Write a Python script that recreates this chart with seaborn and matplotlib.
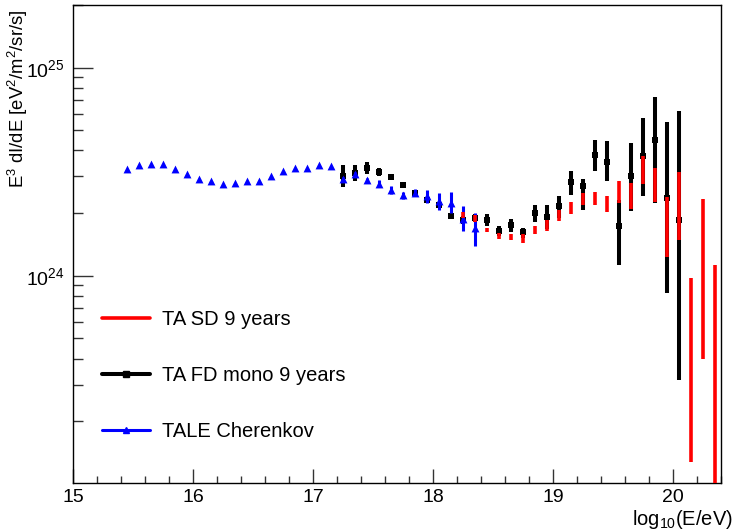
import matplotlib
matplotlib.use("Agg")
import matplotlib.pyplot as plt
import numpy as np
import seaborn as sns
from matplotlib.lines import Line2D
from matplotlib.ticker import FixedLocator, NullFormatter, FixedFormatter

# TALE Cherenkov (blue triangles), flux in units of 1e24
tale_x = [15.45, 15.55, 15.65, 15.75, 15.85, 15.95, 16.05, 16.15, 16.25, 16.35,
          16.45, 16.55, 16.65, 16.75, 16.85, 16.95, 17.05, 17.15, 17.25, 17.35,
          17.45, 17.55, 17.65, 17.75, 17.85, 17.95, 18.05, 18.15, 18.25, 18.35]
tale_y = [3.26, 3.41, 3.43, 3.43, 3.26, 3.08, 2.93, 2.84, 2.76, 2.79,
          2.84, 2.86, 3.03, 3.18, 3.28, 3.29, 3.39, 3.37, 2.93, 3.09,
          2.89, 2.76, 2.58, 2.45, 2.51, 2.41, 2.28, 2.24, 1.88, 1.70]
tale_lo = [3.26, 3.41, 3.43, 3.43, 3.26, 3.08, 2.93, 2.84, 2.76, 2.79,
           2.84, 2.86, 3.03, 3.18, 3.28, 3.29, 3.39, 3.37, 2.87, 3.03,
           2.83, 2.66, 2.47, 2.35, 2.42, 2.24, 2.07, 2.00, 1.64, 1.39]
tale_hi = [3.26, 3.41, 3.43, 3.43, 3.26, 3.08, 2.93, 2.84, 2.76, 2.79,
           2.84, 2.86, 3.03, 3.18, 3.28, 3.29, 3.39, 3.37, 2.99, 3.15,
           2.95, 2.87, 2.70, 2.54, 2.60, 2.59, 2.50, 2.54, 2.16, 2.00]

# TA FD mono 9 years (black squares)
fd_x = [17.25, 17.35, 17.45, 17.55, 17.65, 17.75, 17.85, 17.95, 18.05, 18.15,
        18.25, 18.35, 18.45, 18.55, 18.65, 18.75, 18.85, 18.95, 19.05, 19.15,
        19.25, 19.35, 19.45, 19.55, 19.65, 19.75, 19.85, 19.95, 20.05]
fd_y = [3.03, 3.11, 3.29, 3.15, 2.97, 2.72, 2.49, 2.32, 2.20, 1.93,
        1.86, 1.90, 1.86, 1.65, 1.76, 1.62, 2.00, 1.92, 2.16, 2.81,
        2.69, 3.79, 3.54, 1.73, 3.00, 3.77, 4.47, 2.36, 1.86]
fd_lo = [2.66, 2.84, 3.08, 3.00, 2.89, 2.64, 2.42, 2.26, 2.13, 1.87,
         1.78, 1.81, 1.74, 1.56, 1.63, 1.52, 1.82, 1.67, 1.90, 2.45,
         2.07, 3.17, 2.84, 1.13, 2.04, 2.41, 2.24, 0.828, 0.316]
fd_hi = [3.41, 3.41, 3.52, 3.29, 3.06, 2.80, 2.56, 2.39, 2.27, 1.99,
         1.94, 1.99, 1.99, 1.73, 1.88, 1.70, 2.19, 2.19, 2.41, 3.17,
         2.92, 4.47, 4.42, 2.32, 4.34, 5.72, 7.26, 5.51, 6.22]

# TA SD 9 years (red)
sd_x = [18.25, 18.35, 18.45, 18.55, 18.65, 18.75, 18.85, 18.95, 19.05, 19.15,
        19.25, 19.35, 19.45, 19.55, 19.65, 19.75, 19.85, 19.95, 20.05, 20.15,
        20.25, 20.35]
sd_y = [1.97, 1.88, 1.65, 1.55, 1.53, 1.50, 1.65, 1.76, 1.97, 2.12,
        2.34, 2.36, 2.22, 2.51, 2.42, 3.23, 2.72, 1.72, 2.16, 0.35,
        1.10, 0.40]
sd_lo = [1.90, 1.82, 1.62, 1.50, 1.48, 1.43, 1.58, 1.65, 1.84, 1.99,
         2.18, 2.19, 2.02, 2.24, 2.09, 2.77, 2.25, 1.23, 1.48, 0.128,
         0.399, 0.05]
sd_hi = [2.02, 1.95, 1.69, 1.61, 1.59, 1.58, 1.73, 1.86, 2.08, 2.25,
         2.50, 2.54, 2.43, 2.84, 2.79, 3.77, 3.29, 2.39, 3.14, 0.977,
         2.34, 1.13]

legend_labels = ["TA SD 9 years", "TA FD mono 9 years", "TALE Cherenkov"]
SCALE = 1e24


def main() -> None:
    sns.set_style("white")
    plt.rcParams["font.family"] = ["Liberation Sans", "DejaVu Sans"]
    plt.rcParams["mathtext.fontset"] = "custom"
    plt.rcParams["mathtext.rm"] = "Liberation Sans"
    plt.rcParams["mathtext.it"] = "Liberation Sans:italic"
    plt.rcParams["text.color"] = "black"
    plt.rcParams["xtick.color"] = "black"
    plt.rcParams["ytick.color"] = "black"

    fig = plt.figure(figsize=(7.34, 5.32), dpi=100)
    ax = fig.add_axes([73 / 734, 1 - 483 / 532, 648 / 734, 478 / 532])
    ax.set_yscale("log")

    # black FD mono
    ax.vlines(fd_x, np.array(fd_lo) * SCALE, np.array(fd_hi) * SCALE,
              color="black", lw=2.9, zorder=2)
    sns.scatterplot(x=fd_x, y=np.array(fd_y) * SCALE, marker="s", s=24,
                    color="black", edgecolor="black", linewidth=0, ax=ax, zorder=3)

    # blue TALE
    ax.vlines(tale_x, np.array(tale_lo) * SCALE, np.array(tale_hi) * SCALE,
              color="blue", lw=2.2, zorder=4)
    sns.scatterplot(x=tale_x, y=np.array(tale_y) * SCALE, marker="^", s=32,
                    color="blue", edgecolor="blue", linewidth=0, ax=ax, zorder=5)

    # red SD
    ax.vlines(sd_x, np.array(sd_lo) * SCALE, np.array(sd_hi) * SCALE,
              color="red", lw=2.6, zorder=6)

    ax.set_xlim(15, 20.4)
    ax.set_ylim(1.01e23, 2e25)

    ax.xaxis.set_major_locator(FixedLocator([15, 16, 17, 18, 19, 20]))
    ax.xaxis.set_minor_locator(FixedLocator(
        [v / 10 for v in range(150, 205, 2) if v % 10 != 0]))
    ax.set_xticklabels(["15", "16", "17", "18", "19", "20"])

    ax.yaxis.set_major_locator(FixedLocator([1e24, 1e25]))
    ax.yaxis.set_major_formatter(FixedFormatter([r"$10^{24}$", r"$10^{25}$"]))
    minors = [m * 10.0 ** e for e in (23, 24) for m in range(2, 10)] + [2e25]
    ax.yaxis.set_minor_locator(FixedLocator(minors))
    ax.yaxis.set_minor_formatter(NullFormatter())

    ax.tick_params(which="both", bottom=True, left=True, top=False, right=False,
                   direction="in", width=1, color="#333333", labelcolor="black")
    ax.tick_params(axis="x", which="major", length=10, labelsize=14, pad=4)
    ax.tick_params(axis="x", which="minor", length=5)
    ax.tick_params(axis="y", which="major", length=14.5, labelsize=14, pad=6)
    ax.tick_params(axis="y", which="minor", length=7.2)

    for sp in ax.spines.values():
        sp.set_color("black")
        sp.set_linewidth(1)

    fig.text(0.024, 0.982, r"E$^3$ dI/dE [eV$^2$/m$^2$/sr/s]", rotation=90,
             ha="center", va="top", fontsize=13.3)
    fig.text(0.998, 0.014, r"log$_{10}$(E/eV)", ha="right", va="baseline",
             fontsize=14.5)

    handles = [
        Line2D([], [], color="red", lw=2.6),
        Line2D([], [], color="black", lw=2.9, marker="s", markersize=4.5),
        Line2D([], [], color="blue", lw=2.2, marker="^", markersize=5),
    ]
    ax.legend(handles, legend_labels, loc="upper left",
              bbox_to_anchor=(0.032, 0.379), frameon=False, fontsize=14.5,
              labelspacing=1.84, handlelength=2.4, handletextpad=0.6,
              borderaxespad=0)

    fig.savefig("out.png", dpi=100)
    plt.close(fig)


if __name__ == "__main__":
    main()
